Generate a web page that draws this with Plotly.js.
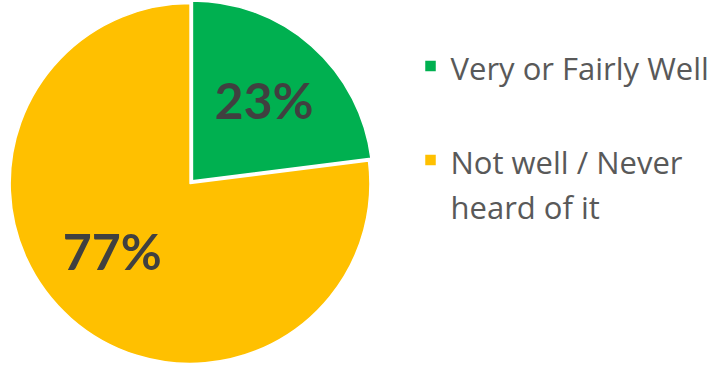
<!DOCTYPE html>
<html>
<head>
<meta charset="utf-8">
<script src="https://cdn.plot.ly/plotly-3.0.1.min.js"></script>
<style>html,body{margin:0;padding:0;background:#fff;}#chart{width:724px;height:367px;}</style>
</head>
<body>
<div id="chart"></div>
<script>
const categories = ["Very or Fairly Well", "Not well / Never heard of it"];
const legendLines = [["Very or Fairly Well"], ["Not well / Never", "heard of it"]];
const values = [23, 77];
const colors = ["#00B050", "#FFC000"];

const legendLabels = legendLines.map(lines => {
  const parts = lines.map(l => "<span style='font-size:31px'>" + l + "</span>");
  if (parts.length < 2) parts.push("&nbsp;");
  return parts.join("<br>");
});

const trace = {
  type: "pie",
  labels: legendLabels,
  customdata: categories,
  values: values,
  sort: false,
  direction: "clockwise",
  rotation: 0,
  pull: [0.02, 0],
  marker: {colors: colors, line: {color: "#ffffff", width: 1.5}},
  texttemplate: ["%{percent}", "%{percent}&nbsp;&nbsp;&nbsp;"],
  textposition: "inside",
  insidetextorientation: "horizontal",
  textfont: {family: "Lato, sans-serif", size: 50, color: "#404040", weight: "bold"},
  hovertemplate: "%{customdata}: %{percent}<extra></extra>",
  domain: {x: [0.008, 0.517], y: [0, 1]}
};

const layout = {
  width: 724, height: 367,
  margin: {l: 0, r: 0, t: 0, b: 0},
  paper_bgcolor: "#ffffff",
  showlegend: true,
  legend: {
    x: 0.567, y: 0.9, xanchor: "left", yanchor: "top",
    valign: "top",
    font: {family: "Open Sans, sans-serif", size: 35, color: "#595959"},
    bgcolor: "rgba(0,0,0,0)"
  }
};

Plotly.newPlot("chart", [trace], layout, {displayModeBar: false, staticPlot: true});
</script>
</body>
</html>
